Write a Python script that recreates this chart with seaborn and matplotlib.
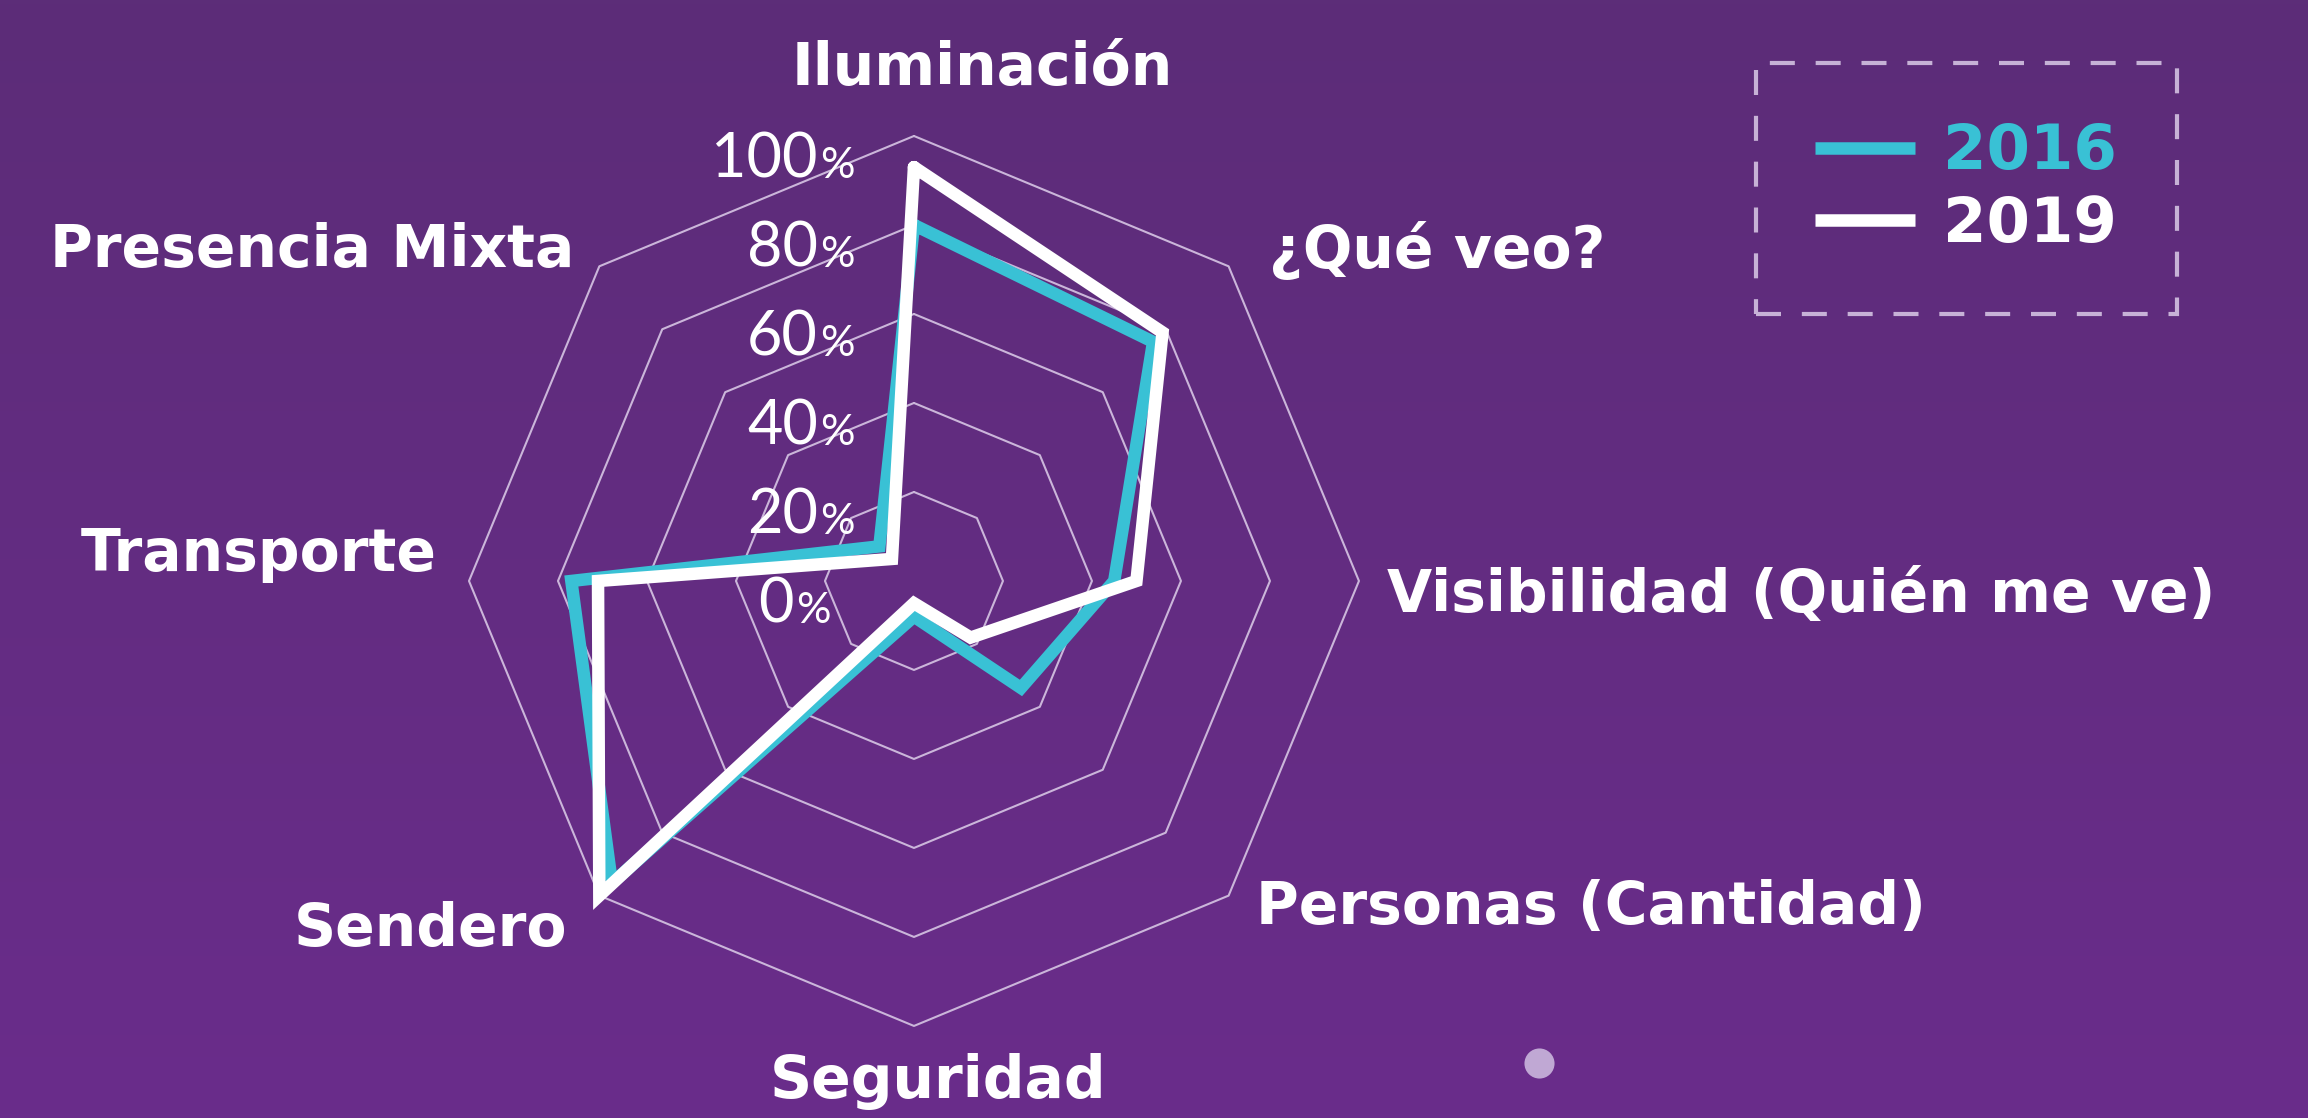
import numpy as np
import pandas as pd
import matplotlib
matplotlib.use("Agg")
import matplotlib.pyplot as plt
from matplotlib.colors import LinearSegmentedColormap
import seaborn as sns

# Radar categories, clockwise from the top
categories = ["Iluminación", "¿Qué veo?", "Visibilidad (Quién me ve)", "Personas (Cantidad)",
              "Seguridad", "Sendero", "Transporte", "Presencia Mixta"]
values_2016 = [80, 76, 45, 34, 8, 96, 77, 11]
values_2019 = [93, 79, 50, 18, 5, 100, 71, 7]
years = ["2016", "2019"]
ring_levels = [20, 40, 60, 80, 100]
tick_levels = [0, 20, 40, 60, 80, 100]
tick_labels = ["0", "20", "40", "60", "80", "100"]

palette = {"2016": "#39c1d5", "2019": "#ffffff"}
grid_color = "#cbb6da"
bold_font = ["DejaVu Sans"]
thin_font = ["Lato", "DejaVu Sans"]

sns.set_style("white")
plt.rcParams["font.family"] = ["DejaVu Sans"]

n = len(categories)
theta = np.linspace(0, 2 * np.pi, n, endpoint=False)
theta_closed = np.append(theta, 2 * np.pi)

# long table for seaborn, polygon closed by repeating the first value
rows = []
for year, vals in zip(years, [values_2016, values_2019]):
    for t, v in zip(theta_closed, vals + vals[:1]):
        rows.append({"theta": t, "value": v, "year": year})
df = pd.DataFrame(rows)

fig = plt.figure(figsize=(23.08, 11.18), dpi=100)

# purple gradient background + small dot
bg = fig.add_axes([0, 0, 1, 1], zorder=0)
cmap = LinearSegmentedColormap.from_list("bg", ["#5c2d78", "#6a2c8b"])
bg.imshow(np.linspace(0, 1, 256)[:, None], aspect="auto", cmap=cmap,
          extent=[0, 1, 0, 1], origin="upper")
bg.scatter([0.667], [0.049], s=470, color="#c0a8d4", linewidths=0)
bg.set_xlim(0, 1)
bg.set_ylim(0, 1)
bg.axis("off")

ax = fig.add_axes([0.2032, 0.0823, 0.3856, 0.7961], projection="polar", zorder=1)
ax.patch.set_alpha(0)

# octagon rings
for lvl in ring_levels:
    ax.plot(theta_closed, [lvl] * (n + 1), color=grid_color, lw=1.5, clip_on=False, zorder=1)

sns.lineplot(data=df, x="theta", y="value", hue="year", palette=palette, sort=False,
             estimator=None, linewidth=9, ax=ax, solid_joinstyle="miter",
             clip_on=False, zorder=3)

ax.set_theta_offset(np.pi / 2)
ax.set_theta_direction(-1)
ax.set_ylim(0, 100)
ax.set_xticks([])
ax.set_yticks([])
ax.set_xlabel("")
ax.set_ylabel("")
ax.grid(False)
ax.spines["polar"].set_visible(False)

# percentage labels along the top axis
for lvl, lab in zip(tick_levels, tick_labels):
    dx = -120 if lvl == 0 else -96
    ax.annotate(lab, xy=(0, lvl), xytext=(dx, -42), textcoords="offset pixels",
                ha="right", va="baseline", fontsize=44, family=thin_font,
                color="white", annotation_clip=False)
    ax.annotate("%", xy=(0, lvl), xytext=(dx + 2, -42), textcoords="offset pixels",
                ha="left", va="baseline", fontsize=31, family=thin_font,
                color="white", annotation_clip=False)

# category labels around the octagon
label_offsets = [(68, 67, "center"), (40, 16, "left"), (28, -15, "left"), (27, -12, "left"),
                 (24, -56, "center"), (-32, -34, "right"), (-32, 26, "right"), (-25, 16, "right")]
for cat, t, (dx, dy, ha) in zip(categories, theta, label_offsets):
    ax.annotate(cat, xy=(t, 100), xytext=(dx, dy), textcoords="offset pixels",
                ha=ha, va="center", fontsize=42, fontweight="bold", family=bold_font,
                color="white", annotation_clip=False)

# legend in a dashed box
old = ax.get_legend()
handles = old.legend_handles
labels = [t.get_text() for t in old.get_texts()]
old.remove()
leg = fig.legend(handles, labels, loc="upper left",
                 bbox_to_anchor=(1756 / 2308, 1 - 63 / 1118),
                 prop={"weight": "bold", "size": 45, "family": bold_font},
                 labelcolor="linecolor",
                 handlelength=1.6, handletextpad=0.45, borderpad=0.95,
                 labelspacing=0.2, borderaxespad=0, fancybox=False, frameon=True)
frame = leg.get_frame()
frame.set_facecolor("none")
frame.set_edgecolor("#e2d5ee")
frame.set_linewidth(3)
frame.set_linestyle((0, (6, 5)))
for h in leg.legend_handles:
    h.set_linewidth(9)
    h.set_solid_capstyle("butt")

fig.savefig("out.png", dpi=100)
